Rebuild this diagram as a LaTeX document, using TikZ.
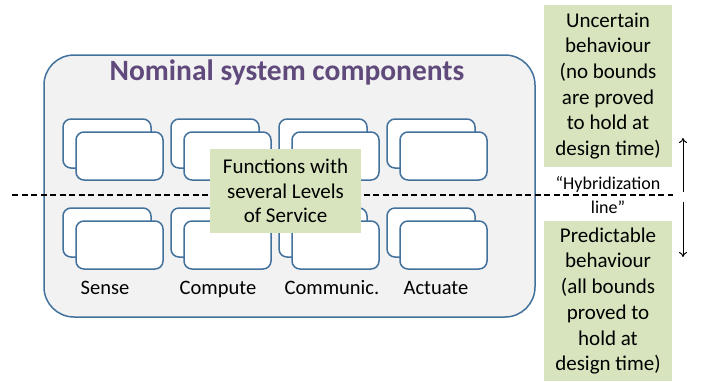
\documentclass[tikz,border=0pt]{standalone}
\usepackage{fontspec}
\setmainfont{Carlito}
\usetikzlibrary{arrows.meta}

\definecolor{boxblue}{HTML}{41719C}
\definecolor{panelgray}{HTML}{F2F2F2}
\definecolor{notegreen}{HTML}{D7E4BD}
\definecolor{titlepurple}{HTML}{604A7B}

\begin{document}
\begin{tikzpicture}[x=1pt, y=-1pt,
    fbox/.style={draw=boxblue, line width=1.5pt, fill=white, rounded corners=8pt,
        minimum width=88pt, minimum height=49pt, inner sep=0pt},
    note/.style={fill=notegreen, align=center, inner sep=0pt,
        font=\fontsize{21}{25.7}\selectfont},
    lbl/.style={font=\fontsize{20.5}{24}\selectfont, text height=15pt, text depth=5pt},
    ]
\useasboundingbox (0,0) rectangle (704,381);

\node[draw=boxblue, line width=1.5pt, fill=panelgray, rounded corners=30pt,
    minimum width=491pt, minimum height=262pt, inner sep=0pt] (panel) at (289.5,186) {};
\node[text=titlepurple, font=\fontsize{29.5}{34}\selectfont\bfseries] (title) at (287,72)
    {Nominal system components};

% two levels of service per function
\foreach \c in {0,...,3} {
  \foreach \r/\y in {top/143.5, bot/232.5} {
    \node[fbox] (back-\c-\r) at (107+108*\c,\y) {};
    \node[fbox, minimum width=87pt, minimum height=48pt] (front-\c-\r)
        at ([xshift=12.5pt, yshift=-12.5pt]back-\c-\r.center) {};
  }
}

\node[lbl] (sense)    at (105,289) {Sense};
\node[lbl] (compute)  at (218,289) {Compute};
\node[lbl] (communic) at (332,289) {Communic.};
\node[lbl] (actuate)  at (436,289) {Actuate};

% hybridization line
\coordinate (hl west) at (12,195);
\coordinate (hl east) at (673,195);
\draw[line width=1.3pt, dash pattern=on 6pt off 3.5pt] (hl west) -- (hl east);

\node[note, minimum width=151pt, minimum height=84pt,
    font=\fontsize{21}{24.5}\selectfont] (levels) at (285.5,191)
    {Functions with\\several Levels\\of Service};

\node[note, minimum width=128pt, minimum height=162pt] (uncertain) at (608,86)
    {Uncertain\\behaviour\\(no bounds\\are proved\\to hold at\\design time)};
\node[note, minimum width=128pt, minimum height=160pt] (predictable) at (608,301)
    {Predictable\\behaviour\\(all bounds\\proved to\\hold at\\design time)};

\node[align=center, inner sep=0pt, font=\fontsize{18}{24}\selectfont] (hybrid) at (608,195)
    {“Hybridization\\line”};

\coordinate (up tail) at (683,192);
\coordinate (up head) at (683,138);
\coordinate (down tail) at (683,202);
\coordinate (down head) at (683,257);
\draw[line width=1pt, -{To[length=5pt, width=8pt]}] (up tail) -- (up head);
\draw[line width=1pt, -{To[length=5pt, width=8pt]}] (down tail) -- (down head);
\end{tikzpicture}
\end{document}
